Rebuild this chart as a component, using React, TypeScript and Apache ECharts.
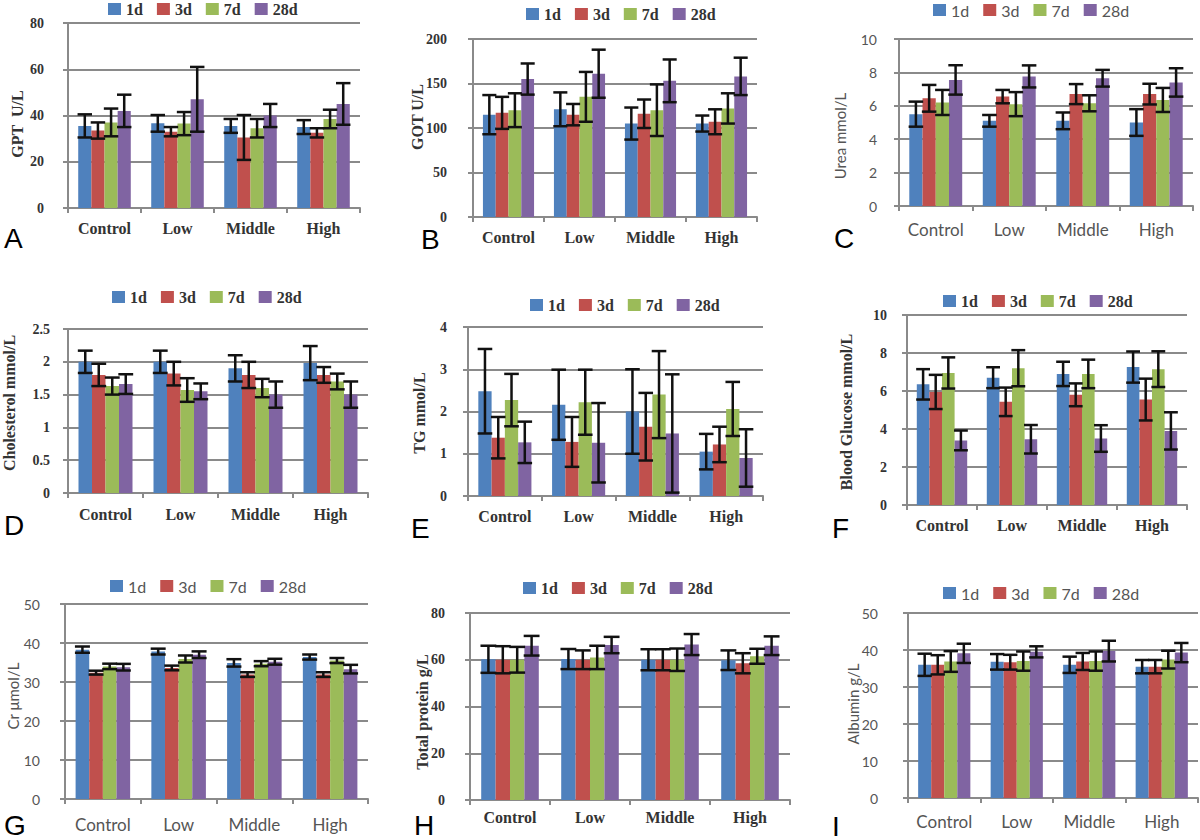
import React, { useEffect, useRef } from "react";
import * as echarts from "echarts";

const categories = ["Control", "Low", "Middle", "High"];
const periods = ["1d", "3d", "7d", "28d"];
const colors = ["#4F81BD", "#C0504D", "#9BBB59", "#8064A2"];

// A: GPT U/L  (rows = 1d,3d,7d,28d; columns = Control, Low, Middle, High)
const gptMeans = [[35.5, 36.6, 35.5, 35], [33.5, 33, 30.5, 32.5], [37, 36.5, 34.5, 38.5], [42, 47, 40, 45]];
const gptErrors = [[5, 3.6, 3, 3], [3.5, 2, 9.7, 2], [6, 5, 4, 4], [7, 14, 5, 9]];
const gptTicks = [0, 80, 20];
// B: GOT U/L
const gotMeans = [[115, 121, 105, 105], [117, 115, 116, 107], [120, 135, 120, 122], [155, 161, 153, 158]];
const gotErrors = [[22, 19, 18, 9], [18, 12, 16, 14], [19, 28, 29, 17], [17.5, 27, 24, 21]];
const gotTicks = [0, 200, 50];
// C: Urea mmol/L
const ureaMeans = [[5.5, 5.1, 5.1, 5.0], [6.45, 6.55, 6.7, 6.7], [6.2, 6.1, 6.15, 6.35], [7.55, 7.76, 7.65, 7.4]];
const ureaErrors = [[0.75, 0.35, 0.5, 0.8], [0.8, 0.4, 0.6, 0.62], [0.75, 0.72, 0.48, 0.72], [0.88, 0.66, 0.5, 0.85]];
const ureaTicks = [0, 10, 2];
// D: Cholesterol mmol/L
const cholMeans = [[2.0, 2.0, 1.9, 1.98], [1.8, 1.82, 1.8, 1.8], [1.63, 1.57, 1.6, 1.7], [1.66, 1.55, 1.5, 1.5]];
const cholErrors = [[0.17, 0.17, 0.2, 0.26], [0.17, 0.18, 0.2, 0.12], [0.13, 0.18, 0.14, 0.12], [0.15, 0.12, 0.2, 0.2]];
const cholTicks = [0, 2.5, 0.5];
// E: TG mmol/L
const tgMeans = [[2.48, 2.16, 2.0, 1.05], [1.38, 1.28, 1.64, 1.22], [2.27, 2.22, 2.4, 2.06], [1.27, 1.26, 1.48, 0.9]];
const tgErrors = [[1.0, 0.83, 1.0, 0.42], [0.49, 0.59, 0.8, 0.42], [0.62, 0.77, 1.03, 0.64], [0.49, 0.94, 1.4, 0.68]];
const tgTicks = [0, 4, 1];
// F: Blood Glucose mmol/L
const gluMeans = [[6.35, 6.7, 6.9, 7.26], [5.95, 5.43, 5.8, 5.55], [6.95, 7.2, 6.9, 7.15], [3.4, 3.46, 3.5, 3.9]];
const gluErrors = [[0.8, 0.55, 0.64, 0.82], [0.9, 0.75, 0.6, 1.1], [0.82, 0.95, 0.75, 0.94], [0.52, 0.75, 0.7, 0.98]];
const gluTicks = [0, 10, 2];
// G: Cr μmol/L
const crMeans = [[38.3, 37.8, 34.9, 36.4], [32.4, 33.6, 31.9, 31.9], [34, 35.9, 34.7, 35.5], [33.8, 37, 35.2, 33.3]];
const crErrors = [[0.8, 0.75, 0.95, 0.65], [0.5, 0.6, 0.6, 0.6], [0.7, 0.9, 0.65, 0.65], [0.85, 0.85, 0.75, 1.1]];
const crTicks = [0, 50, 10];
// H: Total protein g/L
const tpMeans = [[60.2, 60.3, 60, 59.8], [60, 60, 60, 58.5], [60, 61, 60, 61.5], [66, 66.3, 66.5, 66]];
const tpErrors = [[5.8, 4.3, 4.5, 4.2], [5.8, 4, 4.5, 4.3], [5.5, 5, 4.8, 3.2], [4.2, 3.5, 4.5, 4]];
const tpTicks = [0, 80, 20];
// I: Albumin g/L
const albMeans = [[36, 36.8, 36, 35.5], [36, 36.7, 36.9, 35.5], [36.9, 37, 37, 37.4], [39.1, 39.5, 39.7, 39.3]];
const albErrors = [[3, 2.1, 2.2, 1.8], [2.6, 2, 2.3, 1.8], [2.8, 2.6, 2.6, 2.4], [2.6, 1.5, 2.8, 2.6]];
const albTicks = [0, 50, 10];

const panelLetters = ["A", "B", "C", "D", "E", "F", "G", "H", "I"];
const axisTitles = ["GPT  U/L", "GOT U/L", "Urea mmol/L", "Cholesterol mmol/L", "TG mmol/L", "Blood Glucose mmol/L", "Cr μmol/L", "Total protein g/L", "Albumin g/L"];
const panelMeans = [gptMeans, gotMeans, ureaMeans, cholMeans, tgMeans, gluMeans, crMeans, tpMeans, albMeans];
const panelErrors = [gptErrors, gotErrors, ureaErrors, cholErrors, tgErrors, gluErrors, crErrors, tpErrors, albErrors];
const panelTicks = [gptTicks, gotTicks, ureaTicks, cholTicks, tgTicks, gluTicks, crTicks, tpTicks, albTicks];

// layout (pixels): grid [left, top, width, height], legend [left, top], letter [x, y], title [x, y], label margins, serif?
const layout = [
  { grid: [68, 23, 292, 185], legend: [108, 1], letter: [4, 238], title: [17, 124], ym: 24, xm: 12, serif: true },
  { grid: [473, 39, 284, 178], legend: [526, 6], letter: [421, 239], title: [417, 117], ym: 26, xm: 12, serif: true },
  { grid: [899, 39, 294, 167], legend: [933, 2], letter: [834, 238], title: [840, 136], ym: 22, xm: 15, serif: false },
  { grid: [68, 329, 300, 164], legend: [112, 289], letter: [4, 525], title: [9, 403], ym: 18, xm: 13, serif: true },
  { grid: [468, 327, 295, 169], legend: [530, 297], letter: [411, 528], title: [419, 413], ym: 21, xm: 12, serif: true },
  { grid: [907, 315, 280, 190], legend: [943, 293], letter: [832, 528], title: [846, 412], ym: 20, xm: 12, serif: true },
  { grid: [65, 604, 303, 195], legend: [110, 578], letter: [4, 825], title: [13, 696], ym: 25, xm: 17, serif: false },
  { grid: [470, 613, 320, 187], legend: [523, 580], letter: [414, 825], title: [422, 712], ym: 25, xm: 9, serif: true },
  { grid: [908, 613, 290, 185], legend: [943, 585], letter: [832, 826], title: [853, 704], ym: 30, xm: 15, serif: false },
];

const SERIF = "'Liberation Serif', 'Times New Roman', serif";
const SANS = "Lato, 'Open Sans', 'DejaVu Sans', sans-serif";
const CAT_GAP = 0.28;
const GRID_COLOR = "#8a8a8a";

export default function App() {
  const ref = useRef<HTMLDivElement>(null);

  useEffect(() => {
    if (!ref.current) return;
    const chart = echarts.init(ref.current, null, { renderer: "svg" });

    const grids: any[] = [];
    const xAxes: any[] = [];
    const yAxes: any[] = [];
    const legends: any[] = [];
    const series: any[] = [];
    const graphics: any[] = [];

    layout.forEach((L, p) => {
      const font = L.serif ? SERIF : SANS;
      const weight = L.serif ? "bold" : "normal";
      const textColor = L.serif ? "#333" : "#555";
      const [mn, mx, step] = panelTicks[p];
      grids.push({ left: L.grid[0], top: L.grid[1], width: L.grid[2], height: L.grid[3], containLabel: false });
      xAxes.push({
        type: "category",
        gridIndex: p,
        data: categories,
        axisLine: { show: true, lineStyle: { color: GRID_COLOR, width: 2 } },
        axisTick: { show: true, length: 5, lineStyle: { color: GRID_COLOR, width: 2 } },
        axisLabel: {
          interval: 0,
          hideOverlap: false,
          margin: L.xm,
          fontFamily: font,
          fontSize: L.serif ? 16 : 17,
          fontWeight: weight,
          color: textColor,
        },
      });
      yAxes.push({
        type: "value",
        gridIndex: p,
        min: mn,
        max: mx,
        interval: step,
        axisLine: { show: true, lineStyle: { color: GRID_COLOR, width: 2 } },
        axisTick: { show: true, length: 5, lineStyle: { color: GRID_COLOR, width: 2 } },
        splitLine: { show: true, lineStyle: { color: GRID_COLOR, width: 2 } },
        axisLabel: { margin: L.ym, fontFamily: font, fontSize: 14, fontWeight: weight, color: textColor },
      });
      legends.push({
        left: L.legend[0],
        top: L.legend[1],
        padding: 0,
        itemWidth: 13,
        itemHeight: 12,
        itemGap: 14,
        icon: "rect",
        data: periods,
        selectedMode: false,
        textStyle: { fontFamily: font, fontSize: 16, fontWeight: weight, color: textColor },
      });
      periods.forEach((per, k) => {
        series.push({
          type: "bar",
          name: per,
          xAxisIndex: p,
          yAxisIndex: p,
          data: panelMeans[p][k],
          barGap: "0%",
          barCategoryGap: CAT_GAP * 100 + "%",
          itemStyle: { color: colors[k] },
          z: 2,
        });
      });
      periods.forEach((per, k) => {
        series.push({
          type: "custom",
          name: "err-" + p + "-" + k,
          xAxisIndex: p,
          yAxisIndex: p,
          z: 5,
          data: categories.map((_, ci) => [ci, panelMeans[p][k][ci], panelErrors[p][k][ci]]),
          encode: { x: 0, y: 1 },
          renderItem: (params: any, api: any) => {
            const ci = api.value(0);
            const mean = api.value(1);
            const e = api.value(2);
            const catW = api.size([1, 0])[0];
            const groupW = catW * (1 - CAT_GAP);
            const barW = groupW / 4;
            const c = api.coord([ci, mean]);
            const x = c[0] - groupW / 2 + barW * (k + 0.5);
            const yt = api.coord([ci, mean + e])[1];
            const yb = api.coord([ci, mean - e])[1];
            const cap = barW * 0.55;
            const st = { stroke: "#111", lineWidth: 2.5 };
            return {
              type: "group",
              children: [
                { type: "line", shape: { x1: x, y1: yt, x2: x, y2: yb }, style: st },
                { type: "line", shape: { x1: x - cap, y1: yt, x2: x + cap, y2: yt }, style: st },
                { type: "line", shape: { x1: x - cap, y1: yb, x2: x + cap, y2: yb }, style: st },
              ],
            };
          },
        });
      });
      graphics.push({
        type: "text",
        x: L.letter[0],
        y: L.letter[1],
        style: {
          text: panelLetters[p],
          fill: "#000",
          font: "28px 'Liberation Sans', Arial, sans-serif",
          align: "left",
          verticalAlign: "middle",
        },
      });
      graphics.push({
        type: "text",
        x: L.title[0],
        y: L.title[1],
        rotation: Math.PI / 2,
        style: {
          text: axisTitles[p],
          fill: textColor,
          font: (L.serif ? "bold 16px " : "15px ") + font,
          align: "center",
          verticalAlign: "middle",
        },
      });
    });

    chart.setOption({
      animation: false,
      backgroundColor: "#fff",
      grid: grids,
      xAxis: xAxes,
      yAxis: yAxes,
      legend: legends,
      series,
      graphic: graphics,
    });

    return () => chart.dispose();
  }, []);

  return (
    <div
      ref={ref}
      style={{ position: "absolute", left: 0, top: 0, width: 1200, height: 840, background: "#fff" }}
    />
  );
}
